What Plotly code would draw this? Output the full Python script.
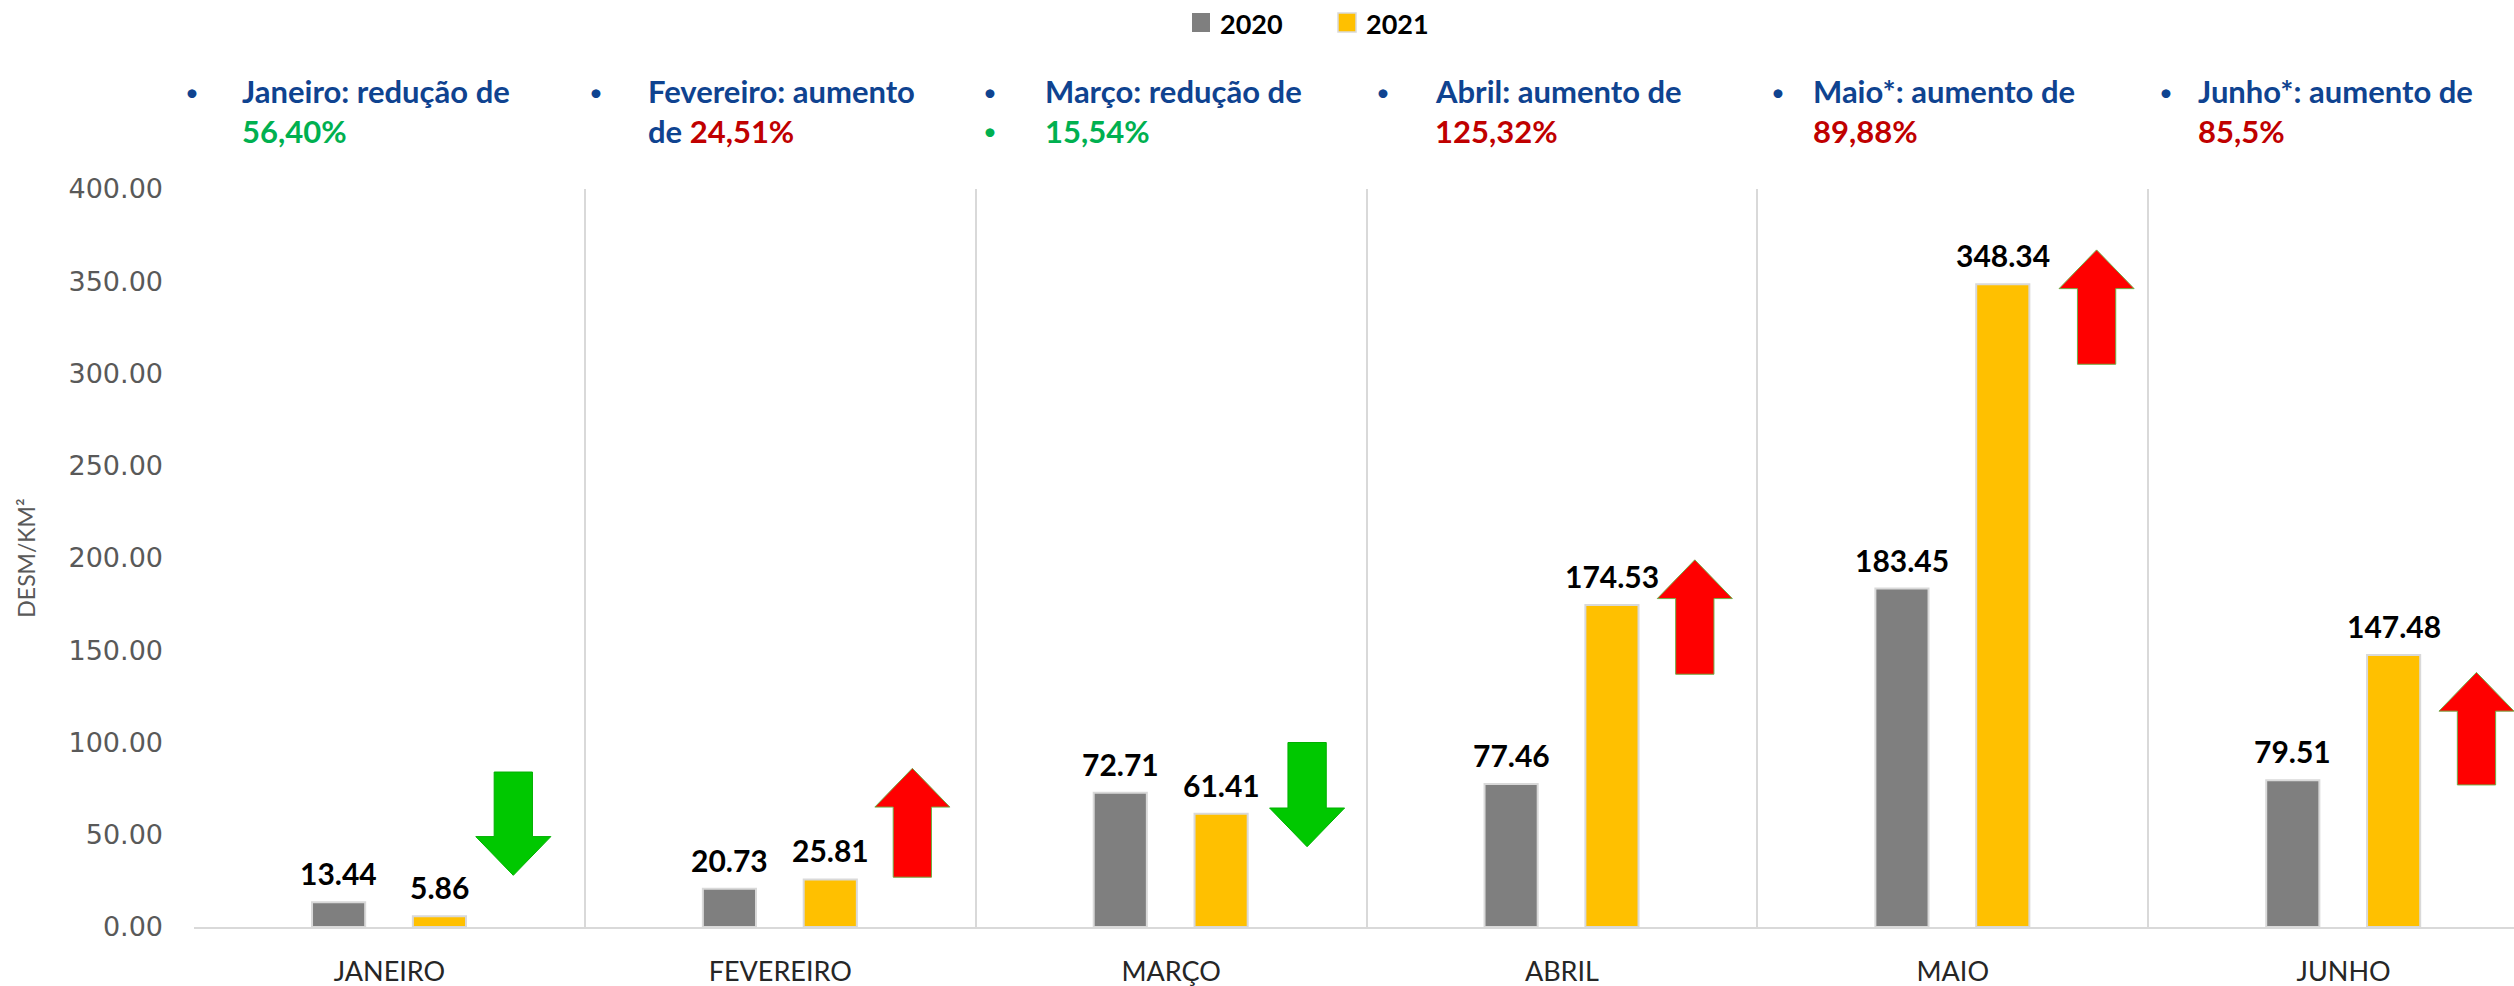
import plotly.graph_objects as go

# ---------------- data ----------------
months = ["JANEIRO", "FEVEREIRO", "MARÇO", "ABRIL", "MAIO", "JUNHO"]
series_names = ["2020", "2021"]
values_2020 = [13.44, 20.73, 72.71, 77.46, 183.45, 79.51]
values_2021 = [5.86, 25.81, 61.41, 174.53, 348.34, 147.48]

note_line1 = ["Janeiro: redução de", "Fevereiro: aumento", "Março: redução de",
              "Abril: aumento de", "Maio*: aumento de", "Junho*: aumento de"]
note_line2_prefix = ["", "de ", "", "", "", ""]
note_pct = ["56,40%", "24,51%", "15,54%", "125,32%", "89,88%", "85,5%"]
trend = ["down", "up", "down", "up", "up", "up"]
# arrow extents (tail value, tip value)
arrow_tail = [84, 27, 100, 137, 305, 77]
arrow_tip = [28, 86, 43.5, 199, 367, 138]

# ---------------- layout / styles ----------------
arrow_dx = [0.317, 0.338, 0.348, 0.340, 0.368, 0.340]
note_text_dx = [0.118, 0.156, 0.171, 0.169, 0.138, 0.123]
note_bullet_dx = [-0.005, 0.028, 0.036, 0.041, 0.054, 0.046]

GRAY = "#7f7f7f"
GOLD = "#ffc000"
BLUE = "#0f4390"
GREEN_TXT = "#00b050"
RED_TXT = "#c00000"
FONT = "Lato"

X_MIN, X_MAX = -0.5, 5.436
PLOT_L, PLOT_R, PLOT_T, PLOT_B = 194, 2514, 189, 927

x_idx = list(range(len(months)))
BAR_W = 0.136

fig = go.Figure()
fig.add_trace(go.Bar(
    x=x_idx, y=values_2020, name=series_names[0], width=BAR_W, offset=-0.198,
    marker=dict(color=GRAY, line=dict(color="#d9d9d9", width=2)),
))
fig.add_trace(go.Bar(
    x=x_idx, y=values_2021, name=series_names[1], width=BAR_W, offset=0.060,
    marker=dict(color=GOLD, line=dict(color="#d9d9d9", width=2)),
))

annotations = []
shapes = []

# data labels
for i, (a, b) in enumerate(zip(values_2020, values_2021)):
    for xc, v in ((i - 0.130, a), (i + 0.128, b)):
        annotations.append(dict(
            x=xc, y=v, xref="x", yref="y", text=f"<b>{v:.2f}</b>", showarrow=False,
            yanchor="bottom", xanchor="center", yshift=9,
            font=dict(family=FONT, size=30, color="#000000")))


def py2paper(py):
    return (PLOT_B - py) / (PLOT_B - PLOT_T)


def px2paper(px):
    return (px - PLOT_L) / (PLOT_R - PLOT_L)


def xdata2paper(xv):
    return (xv - X_MIN) / (X_MAX - X_MIN)


# header notes
L1_Y = py2paper(91)
L2_Y = py2paper(131)
for i in x_idx:
    left = i - 0.5
    pct_col = GREEN_TXT if trend[i] == "down" else RED_TXT
    bx = xdata2paper(left + note_bullet_dx[i])
    tx = xdata2paper(left + note_text_dx[i])
    annotations.append(dict(x=bx, y=L1_Y, xref="paper", yref="paper", text="•",
                            showarrow=False, xanchor="center", yanchor="middle",
                            font=dict(family=FONT, size=24, color=BLUE)))
    annotations.append(dict(x=tx, y=L1_Y, xref="paper", yref="paper",
                            text=f"<b>{note_line1[i]}</b>", showarrow=False,
                            xanchor="left", yanchor="middle",
                            font=dict(family=FONT, size=31, color=BLUE)))
    if i == 2:
        annotations.append(dict(x=bx, y=L2_Y, xref="paper", yref="paper", text="•",
                                showarrow=False, xanchor="center", yanchor="middle",
                                font=dict(family=FONT, size=24, color=GREEN_TXT)))
    line2 = ""
    if note_line2_prefix[i]:
        line2 += f"<span style='color:{BLUE}'>{note_line2_prefix[i]}</span>"
    line2 += f"<span style='color:{pct_col}'>{note_pct[i]}</span>"
    annotations.append(dict(x=tx, y=L2_Y, xref="paper", yref="paper",
                            text=f"<b>{line2}</b>", showarrow=False,
                            xanchor="left", yanchor="middle",
                            font=dict(family=FONT, size=31, color=pct_col)))

# custom legend (larger squares, bold labels)
legend_items = [(series_names[0], GRAY, 1192, "rgba(0,0,0,0)"), (series_names[1], GOLD, 1338, "#d9d9d9")]
for name, col, sx, border in legend_items:
    shapes.append(dict(type="rect", xref="paper", yref="paper",
                       x0=px2paper(sx), x1=px2paper(sx + 18), y0=py2paper(32), y1=py2paper(13),
                       fillcolor=col, line=dict(color=border, width=1.5)))
    annotations.append(dict(x=px2paper(sx + 26), y=py2paper(23), xref="paper", yref="paper",
                            text=f"<b>{name}</b>", showarrow=False, xanchor="left", yanchor="middle",
                            font=dict(family=FONT, size=27, color="#000000")))

# arrows
HEAD_HALF = 0.096
SHAFT_HALF = 0.049
HEAD_LEN = 21
for i in x_idx:
    cx = i + arrow_dx[i]
    tail, tip = arrow_tail[i], arrow_tip[i]
    sgn = 1 if tip > tail else -1
    hb = tip - sgn * HEAD_LEN
    pts = [(cx - SHAFT_HALF, tail), (cx - SHAFT_HALF, hb), (cx - HEAD_HALF, hb), (cx, tip),
           (cx + HEAD_HALF, hb), (cx + SHAFT_HALF, hb), (cx + SHAFT_HALF, tail)]
    path = "M " + " L ".join(f"{px:.4f},{py:.3f}" for px, py in pts) + " Z"
    up = trend[i] == "up"
    shapes.append(dict(type="path", xref="x", yref="y", path=path,
                       fillcolor="#ff0000" if up else "#00c800",
                       line=dict(color="#70ad47" if up else "#00b000", width=1)))

fig.update_layout(
    width=2514, height=986,
    margin=dict(l=PLOT_L, r=2514 - PLOT_R, t=PLOT_T, b=986 - PLOT_B, autoexpand=False),
    paper_bgcolor="white", plot_bgcolor="white",
    barmode="group",
    showlegend=False,
    annotations=annotations,
    shapes=shapes,
    font=dict(family=FONT),
)
fig.update_xaxes(
    range=[X_MIN, X_MAX], tickvals=x_idx, ticktext=months, showgrid=False,
    minor=dict(tick0=-0.5, dtick=1, showgrid=True, gridcolor="#d9d9d9", gridwidth=2, ticks=""),
    showline=True, linecolor="#d9d9d9", linewidth=2, zeroline=False,
    ticks="", ticklabelstandoff=20,
    tickfont=dict(family=FONT, size=27, color="#262626"),
)
fig.update_yaxes(
    range=[0, 400], tickvals=[0, 50, 100, 150, 200, 250, 300, 350, 400], tickformat=".2f",
    showgrid=False, zeroline=False, showline=False, ticks="", ticklabelstandoff=30,
    tickfont=dict(family="DejaVu Sans", size=27, color="#595959"),
    title=dict(text="DESM/KM²", font=dict(family=FONT, size=23, color="#595959"), standoff=26),
)

fig.write_html("out.html", config={"displayModeBar": False},
               post_script="document.body.style.margin='0';")
